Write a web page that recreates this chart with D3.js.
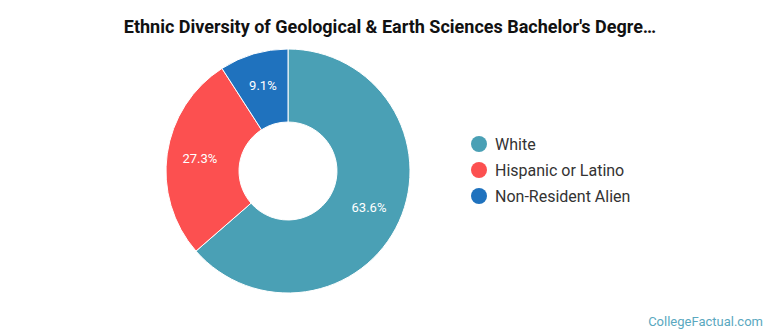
<!DOCTYPE html>
<html>
<head>
<meta charset="utf-8">
<script src="https://cdn.jsdelivr.net/npm/d3@7"></script>
<style>
  body { margin: 0; background: #fff; }
  svg { display: block; font-family: Roboto, sans-serif; }
</style>
</head>
<body>
<div id="chart"></div>
<script>
// chart data
const categories = ["White", "Hispanic or Latino", "Non-Resident Alien"];
const shares = [63.6, 27.3, 9.1];
const colors = ["#4aa0b5", "#fc5050", "#1f72be"];
const title = "Ethnic Diversity of Geological & Earth Sciences Bachelor's Degre\u2026";

const width = 770, height = 335;
const cx = 288, cy = 171, outerR = 122, innerR = 49;

const svg = d3.select("#chart")
      .append("svg")
      .attr("width", width)
      .attr("height", height);

svg.append("text")
    .attr("x", 390)
    .attr("y", 33)
    .attr("text-anchor", "middle")
    .attr("font-size", 18)
    .attr("font-weight", "bold")
    .attr("fill", "#111")
    .text(title);

const data = categories.map((c, i) => ({name: c, value: shares[i], color: colors[i]}));

const pie = d3.pie().sort(null).value(d => d.value);
const arc = d3.arc().innerRadius(innerR).outerRadius(outerR);
const labelArc = d3.arc().innerRadius(89).outerRadius(89);

const g = svg.append("g")
      .attr("transform", "translate(" + cx + "," + cy + ")");

g.selectAll("path")
    .data(pie(data))
    .join("path")
    .attr("d", arc)
    .attr("fill", d => d.data.color)
    .attr("stroke", "#fff")
    .attr("stroke-width", 1);

g.selectAll("text")
    .data(pie(data))
    .join("text")
    .attr("transform", d => "translate(" + labelArc.centroid(d) + ")")
    .attr("text-anchor", "middle")
    .attr("dy", "0.35em")
    .attr("font-size", 13)
    .attr("fill", "#fff")
    .text(d => d.data.value.toFixed(1) + "%");

// legend
const legend = svg.append("g")
      .attr("transform", "translate(479,144)");

const item = legend.selectAll("g")
      .data(data)
      .join("g")
      .attr("transform", (d, i) => "translate(0," + i * 26 + ")");

item.append("circle")
    .attr("r", 8)
    .attr("fill", d => d.color);

item.append("text")
    .attr("x", 16)
    .attr("dy", "0.35em")
    .attr("font-size", 16)
    .attr("fill", "#333")
    .text(d => d.name);

svg.append("text")
    .attr("x", 763)
    .attr("y", 326)
    .attr("text-anchor", "end")
    .attr("font-size", 13)
    .attr("fill", "#5aa8c0")
    .text("CollegeFactual.com");
</script>
</body>
</html>
